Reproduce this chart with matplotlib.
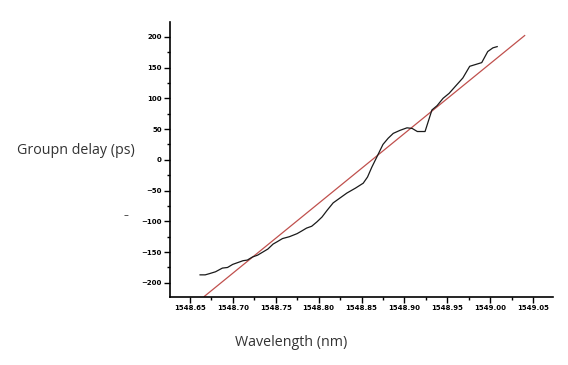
import matplotlib
matplotlib.use("Agg")
import matplotlib.pyplot as plt
from matplotlib.ticker import MultipleLocator, FormatStrFormatter

# Measured group delay (black curve)
wavelength = [1548.662, 1548.668, 1548.673, 1548.680, 1548.688, 1548.694, 1548.700,
              1548.706, 1548.712, 1548.717, 1548.723, 1548.729, 1548.735, 1548.741,
              1548.747, 1548.752, 1548.758, 1548.766, 1548.775, 1548.780, 1548.786,
              1548.792, 1548.798, 1548.804, 1548.810, 1548.817, 1548.825, 1548.833,
              1548.843, 1548.852, 1548.857, 1548.862, 1548.868, 1548.875, 1548.881,
              1548.887, 1548.895, 1548.903, 1548.909, 1548.915, 1548.924, 1548.932,
              1548.938, 1548.945, 1548.952, 1548.959, 1548.968, 1548.976, 1548.983,
              1548.990, 1548.997, 1549.003, 1549.008]
delay = [-187, -187, -185, -182, -176, -175, -170,
         -167, -164, -163, -158, -155, -150, -145,
         -137, -133, -128, -125, -120, -116, -111,
         -108, -101, -93, -82, -70, -62, -54,
         -46, -38, -28, -12, 5, 25, 35,
         43, 48, 52, 51, 46, 46, 81,
         88, 100, 108, 119, 133, 152, 155,
         158, 176, 182, 184]

# Linear fit (red line) endpoints
fit_wavelength = [1548.667, 1549.040]
fit_delay = [-222, 202]

xticks = [1548.65, 1548.70, 1548.75, 1548.80, 1548.85, 1548.90, 1548.95, 1549.00, 1549.05]
yticks = [-200, -150, -100, -50, 0, 50, 100, 150, 200]

fig = plt.figure(figsize=(5.68, 3.65), dpi=100)
ax = fig.add_axes([0.2993, 0.1863, 0.6743, 0.7534])

ax.plot(fit_wavelength, fit_delay, color="#c0504d", lw=0.9)
ax.plot(wavelength, delay, color="#1a1a1a", lw=0.9)

ax.set_xlim(1548.627, 1549.073)
ax.set_ylim(-223, 224)
ax.set_xticks(xticks)
ax.set_yticks(yticks)
ax.xaxis.set_major_formatter(FormatStrFormatter("%.2f"))
ax.xaxis.set_minor_locator(MultipleLocator(0.025))
ax.yaxis.set_minor_locator(MultipleLocator(25))
ax.tick_params(axis="both", which="major", direction="out", length=4, width=1,
               labelsize=5, pad=2)
ax.tick_params(axis="both", which="minor", direction="out", length=2, width=1)
for lbl in ax.get_xticklabels() + ax.get_yticklabels():
    lbl.set_fontweight("bold")

for s in ["top", "right"]:
    ax.spines[s].set_visible(False)
for s in ["left", "bottom"]:
    ax.spines[s].set_linewidth(1.2)

fig.text(17 / 568, 1 - 150 / 365, "Groupn delay (ps)", ha="left", va="center",
         fontsize=10.3, family="Open Sans", color="#333333")
fig.text(291 / 568, 1 - 342 / 365, "Wavelength (nm)", ha="center", va="center",
         fontsize=10.3, family="Open Sans", color="#333333")
fig.text(126 / 568, 1 - 215 / 365, "–", ha="center", va="center",
         fontsize=7, color="#333333")

fig.savefig("out.png", dpi=100, facecolor="white")
